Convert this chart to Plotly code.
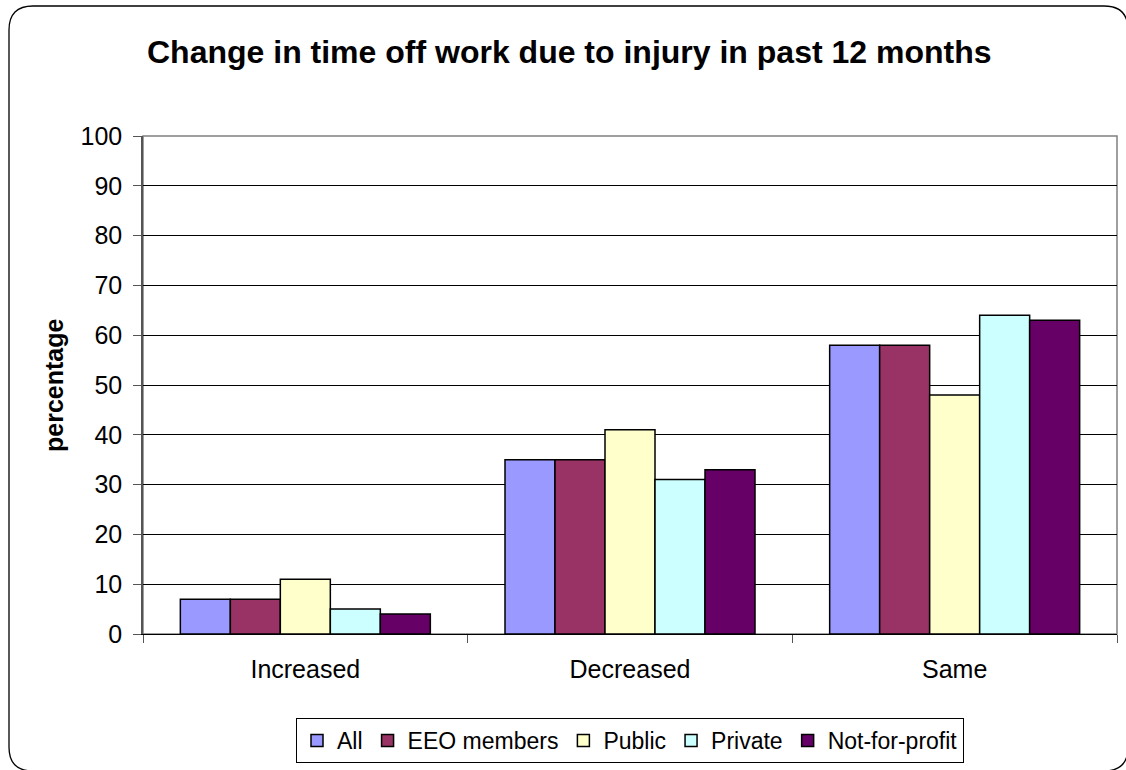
import plotly.graph_objects as go

categories = ["Increased", "Decreased", "Same"]
series_names = ["All", "EEO members", "Public", "Private", "Not-for-profit"]
all_vals = [7, 35, 58]
eeo_vals = [7, 35, 58]
public_vals = [11, 41, 48]
private_vals = [5, 31, 64]
nfp_vals = [4, 33, 63]
colors = ["#9999FF", "#993366", "#FFFFCC", "#CCFFFF", "#660066"]
y_ticks = list(range(0, 101, 10))

W, H = 1126, 770
def px(x):
    return x / W
def py(y):
    return 1 - y / H

FONT = "Arial, Liberation Sans, sans-serif"

fig = go.Figure()
for name, vals, col in zip(series_names, [all_vals, eeo_vals, public_vals, private_vals, nfp_vals], colors):
    fig.add_trace(go.Bar(
        name=name, x=categories, y=vals,
        marker=dict(color=col, line=dict(color="black", width=1.5)),
    ))

# rounded outer frame
x0, y0, x1, y1 = 9, 6, 1128, 771
r = 24
path = (
    f"M {px(x0 + r)},{py(y0)} L {px(x1 - r)},{py(y0)} "
    f"Q {px(x1)},{py(y0)} {px(x1)},{py(y0 + r)} "
    f"L {px(x1)},{py(y1 - r)} Q {px(x1)},{py(y1)} {px(x1 - r)},{py(y1)} "
    f"L {px(x0 + r)},{py(y1)} Q {px(x0)},{py(y1)} {px(x0)},{py(y1 - r)} "
    f"L {px(x0)},{py(y0 + r)} Q {px(x0)},{py(y0)} {px(x0 + r)},{py(y0)} Z"
)
shapes = [
    dict(type="path", xref="paper", yref="paper", path=path,
         line=dict(color="black", width=1.3), fillcolor="rgba(0,0,0,0)", layer="below"),
    dict(type="rect", xref="paper", yref="paper",
         x0=px(143), x1=px(1117), y0=py(634), y1=py(136),
         line=dict(color="#808080", width=1.5), layer="below"),
]

fig.update_layout(
    width=W, height=H, autosize=False,
    margin=dict(l=0, r=0, t=0, b=0, pad=0, autoexpand=False),
    paper_bgcolor="white", plot_bgcolor="white",
    font=dict(family=FONT, size=23, color="black"),
    barmode="group", bargap=0.23, bargroupgap=0,
    showlegend=True,
    legend=dict(
        orientation="h", x=px(630), xanchor="center", y=py(718), yanchor="top",
        bordercolor="black", borderwidth=1, font=dict(size=23, family=FONT),
        itemwidth=30, traceorder="normal",
    ),
    annotations=[
        dict(text="<b>Change in time off work due to injury in past 12 months</b>",
             xref="paper", yref="paper", x=px(569), y=py(52),
             xanchor="center", yanchor="middle", showarrow=False,
             font=dict(size=32, family=FONT)),
        dict(text="<b>percentage</b>", xref="paper", yref="paper",
             x=px(54), y=py(386), textangle=-90,
             xanchor="center", yanchor="middle", showarrow=False,
             font=dict(size=25, family=FONT)),
    ],
    shapes=shapes,
    xaxis=dict(
        domain=[px(143), px(1117)],
        showgrid=False, showline=True, linecolor="black", linewidth=1,
        ticks="outside", tickson="boundaries", ticklen=8, tickcolor="#555",
        ticklabelstandoff=13,
        tickfont=dict(size=25, family=FONT),
    ),
    yaxis=dict(
        domain=[py(634), py(136)],
        range=[0, 100], tickvals=y_ticks,
        showgrid=True, gridcolor="black", gridwidth=1,
        showline=True, linecolor="#555", linewidth=1.5,
        ticks="outside", ticklen=8, tickcolor="#555",
        ticklabelstandoff=6,
        tickfont=dict(size=25, family=FONT),
        zeroline=False,
    ),
)

fig.write_html("out.html", config={"displayModeBar": False},
               post_script="document.body.style.margin='0';")
